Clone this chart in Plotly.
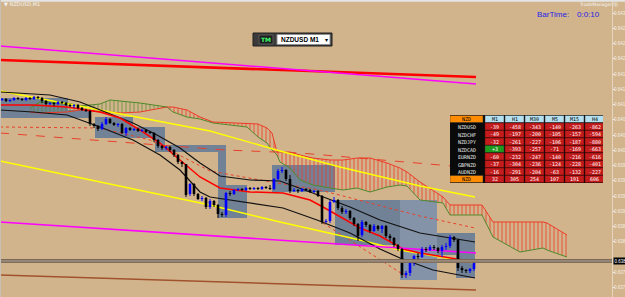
import plotly.graph_objects as go

W, H = 625, 297
PW = 612  # plot area width in px

# ---------------- price data (NZDUSD M1) ----------------
open_ = [0.64130, 0.64132, 0.64128, 0.64130, 0.64134, 0.64132, 0.64130, 0.64134, 0.64132, 0.64136,
         0.64134, 0.64128, 0.64122, 0.64124, 0.64122, 0.64126, 0.64124, 0.64120, 0.64118, 0.64120,
         0.64114, 0.64110, 0.64108, 0.64082, 0.64078, 0.64072, 0.64082, 0.64092, 0.64084, 0.64080,
         0.64082, 0.64064, 0.64074, 0.64070, 0.64072, 0.64068, 0.64070, 0.64066, 0.64064, 0.64050,
         0.64038, 0.64034, 0.64036, 0.64030, 0.64020, 0.64006, 0.64002, 0.63942, 0.63962, 0.63942,
         0.63932, 0.63934, 0.63916, 0.63928, 0.63920, 0.63902, 0.63900, 0.63944, 0.63942, 0.63950,
         0.63952, 0.63950, 0.63954, 0.63952, 0.63954, 0.63952, 0.63956, 0.63954, 0.63952, 0.63972,
         0.63988, 0.63990, 0.63972, 0.63948, 0.63950, 0.63948, 0.63952, 0.63950, 0.63946, 0.63948,
         0.63938, 0.63886, 0.63888, 0.63926, 0.63930, 0.63914, 0.63906, 0.63908, 0.63894, 0.63882,
         0.63860, 0.63886, 0.63880, 0.63868, 0.63878, 0.63872, 0.63878, 0.63858, 0.63854, 0.63840,
         0.63832, 0.63780, 0.63784, 0.63804, 0.63818, 0.63816, 0.63832, 0.63830, 0.63836, 0.63834,
         0.63828, 0.63836, 0.63838, 0.63856, 0.63850, 0.63794, 0.63790, 0.63788, 0.63792]
close_ = [0.64132, 0.64128, 0.64130, 0.64134, 0.64132, 0.64130, 0.64134, 0.64132, 0.64136, 0.64134,
          0.64128, 0.64122, 0.64124, 0.64122, 0.64126, 0.64124, 0.64120, 0.64118, 0.64120, 0.64114,
          0.64110, 0.64108, 0.64082, 0.64078, 0.64072, 0.64082, 0.64092, 0.64084, 0.64080, 0.64082,
          0.64064, 0.64074, 0.64070, 0.64072, 0.64068, 0.64070, 0.64066, 0.64064, 0.64050, 0.64038,
          0.64034, 0.64036, 0.64030, 0.64020, 0.64006, 0.64002, 0.63940, 0.63962, 0.63942, 0.63932,
          0.63934, 0.63916, 0.63928, 0.63920, 0.63902, 0.63900, 0.63944, 0.63942, 0.63950, 0.63952,
          0.63950, 0.63954, 0.63952, 0.63954, 0.63952, 0.63956, 0.63954, 0.63952, 0.63972, 0.63988,
          0.63990, 0.63972, 0.63948, 0.63950, 0.63948, 0.63952, 0.63950, 0.63946, 0.63948, 0.63938,
          0.63886, 0.63888, 0.63926, 0.63930, 0.63914, 0.63906, 0.63908, 0.63894, 0.63882, 0.63858,
          0.63886, 0.63880, 0.63868, 0.63878, 0.63872, 0.63878, 0.63858, 0.63854, 0.63840, 0.63832,
          0.63780, 0.63784, 0.63804, 0.63818, 0.63816, 0.63832, 0.63830, 0.63836, 0.63834, 0.63828,
          0.63836, 0.63838, 0.63856, 0.63850, 0.63794, 0.63790, 0.63788, 0.63792, 0.63808]
high_ = [0.64134, 0.64134, 0.64132, 0.64136, 0.64136, 0.64134, 0.64136, 0.64136, 0.64138, 0.64138,
         0.64136, 0.64130, 0.64126, 0.64126, 0.64128, 0.64128, 0.64126, 0.64122, 0.64122, 0.64122,
         0.64116, 0.64112, 0.64110, 0.64084, 0.64080, 0.64086, 0.64096, 0.64094, 0.64086, 0.64084,
         0.64084, 0.64076, 0.64076, 0.64074, 0.64074, 0.64072, 0.64072, 0.64068, 0.64066, 0.64052,
         0.64040, 0.64038, 0.64038, 0.64032, 0.64022, 0.64008, 0.64002, 0.63964, 0.63964, 0.63944,
         0.63938, 0.63936, 0.63932, 0.63930, 0.63922, 0.63906, 0.63946, 0.63948, 0.63952, 0.63954,
         0.63954, 0.63956, 0.63956, 0.63956, 0.63956, 0.63958, 0.63958, 0.63960, 0.63974, 0.63992,
         0.63996, 0.63992, 0.63980, 0.63954, 0.63952, 0.63954, 0.63954, 0.63952, 0.63950, 0.63950,
         0.63940, 0.63892, 0.63930, 0.63936, 0.63932, 0.63918, 0.63912, 0.63910, 0.63896, 0.63884,
         0.63890, 0.63888, 0.63882, 0.63882, 0.63880, 0.63880, 0.63880, 0.63862, 0.63856, 0.63842,
         0.63834, 0.63788, 0.63808, 0.63820, 0.63824, 0.63836, 0.63836, 0.63840, 0.63840, 0.63836,
         0.63840, 0.63844, 0.63860, 0.63858, 0.63852, 0.63798, 0.63792, 0.63794, 0.63810]
low_ = [0.64128, 0.64126, 0.64126, 0.64128, 0.64130, 0.64128, 0.64128, 0.64130, 0.64130, 0.64132,
        0.64124, 0.64120, 0.64120, 0.64118, 0.64120, 0.64122, 0.64118, 0.64116, 0.64114, 0.64112,
        0.64108, 0.64106, 0.64078, 0.64074, 0.64068, 0.64070, 0.64080, 0.64082, 0.64078, 0.64076,
        0.64062, 0.64058, 0.64068, 0.64068, 0.64066, 0.64066, 0.64064, 0.64062, 0.64046, 0.64034,
        0.64030, 0.64030, 0.64026, 0.64016, 0.64002, 0.63996, 0.63936, 0.63938, 0.63938, 0.63930,
        0.63928, 0.63912, 0.63912, 0.63916, 0.63894, 0.63896, 0.63896, 0.63938, 0.63940, 0.63948,
        0.63948, 0.63948, 0.63950, 0.63950, 0.63950, 0.63950, 0.63952, 0.63950, 0.63950, 0.63970,
        0.63984, 0.63968, 0.63944, 0.63946, 0.63944, 0.63946, 0.63948, 0.63944, 0.63944, 0.63936,
        0.63882, 0.63884, 0.63884, 0.63924, 0.63910, 0.63902, 0.63902, 0.63890, 0.63878, 0.63848,
        0.63856, 0.63876, 0.63864, 0.63866, 0.63868, 0.63864, 0.63854, 0.63848, 0.63836, 0.63828,
        0.63774, 0.63774, 0.63778, 0.63798, 0.63812, 0.63814, 0.63826, 0.63828, 0.63830, 0.63824,
        0.63816, 0.63830, 0.63834, 0.63846, 0.63788, 0.63784, 0.63784, 0.63784, 0.63788]
bar_idx = list(range(len(open_)))
current_price = 0.63808
current_label = "0.638"

# ---------------- indicator lines (bar index, price) ----------------
magenta_hi_x = [-0.5, 118.5]
magenta_hi_y = [0.64238, 0.64162]
red_hi_x = [-0.5, 118.5]
red_hi_y = [0.64210, 0.64176]
magenta_lo_x = [-0.5, 118.5]
magenta_lo_y = [0.63886, 0.63824]
brown_lo_x = [-0.5, 118.5]
brown_lo_y = [0.63780, 0.63750]

yellow_up_x = [-0.5, 25.75, 52, 69.5, 84.5, 104.5, 118.25]
yellow_up_y = [0.64148, 0.64108, 0.64068, 0.64028, 0.63996, 0.63958, 0.63936]
yellow_dn_x = [-0.5, 24.5, 52, 69.5, 89.5, 99.5, 118.25]
yellow_dn_y = [0.64008, 0.63966, 0.63920, 0.63886, 0.63850, 0.63830, 0.63804]

black_up_x = [-0.5, 12, 19.5, 24.5, 32.75, 38.75, 44.5, 49.5, 54.5, 62, 69.5, 77, 87, 94.5, 104.5, 118.25]
black_up_y = [0.64146, 0.64140, 0.64126, 0.64110, 0.64084, 0.64060, 0.64034, 0.64004, 0.63978, 0.63970,
              0.63968, 0.63946, 0.63916, 0.63890, 0.63864, 0.63846]
black_dn_x = [-0.5, 7.75, 16.25, 24.5, 32.75, 39.5, 44.5, 49.5, 52, 62, 70.25, 78.75, 87, 94.5, 99.5, 107.75, 118.25]
black_dn_y = [0.64110, 0.64106, 0.64100, 0.64076, 0.64050, 0.64020, 0.63990, 0.63946, 0.63936, 0.63924,
              0.63914, 0.63890, 0.63864, 0.63832, 0.63814, 0.63790, 0.63774]

ma_red_x = [-0.5, 7.75, 16.25, 24.5, 29.5, 34.5, 39.5, 44.5, 49.5, 54.5, 62, 70.25, 77, 80.25, 84.5, 89.5,
            94.5, 100.25, 104.5, 118.25]
ma_red_y = [0.64120, 0.64120, 0.64116, 0.64106, 0.64094, 0.64070, 0.64044, 0.64010, 0.63976, 0.63954,
            0.63946, 0.63944, 0.63930, 0.63916, 0.63896, 0.63874, 0.63858, 0.63832, 0.63824, 0.63806]

dot_a_x = [-0.5, 24.5, 37, 52, 64.5, 79.5, 104.5, 118.25]
dot_a_y = [0.64076, 0.64074, 0.64050, 0.63988, 0.63970, 0.63950, 0.63898, 0.63874]
dot_b_x = [80.25, 101.25]
dot_b_y = [0.63884, 0.63776]
dash_c_x = [-0.5, 55.75, 74.5, 118.25]
dash_c_y = [0.64064, 0.64030, 0.64024, 0.63994]

# Ichimoku cloud: green-topped part and red-topped part
cloud_g_x = [7, 9.5, 16.25, 19.5, 24.5, 27, 29.5, 34.5, 41.25]
cloud_g_red = [0.64106, 0.64104, 0.64106, 0.64110, 0.64106, 0.64106, 0.64104, 0.64106, 0.64116]
cloud_g_green = [0.64114, 0.64126, 0.64124, 0.64118, 0.64122, 0.64130, 0.64128, 0.64124, 0.64116]
cloud_r_x = [41.25, 42.75, 46.25, 49.5, 52.75, 61.25, 64, 66.25, 67.5, 68.75, 69.5, 72, 74.5, 77.75, 82,
             85.25, 88.75, 92, 96.25, 99.5, 101.25, 104.5, 110.25, 112, 120, 122.75, 129.5, 135.25,
             136.25, 141.25]
cloud_r_red = [0.64116, 0.64116, 0.64110, 0.64096, 0.64086, 0.64084, 0.64082, 0.64074, 0.64064, 0.64026,
               0.64026, 0.64026, 0.64020, 0.64014, 0.64010, 0.64010, 0.64014, 0.64014, 0.64004, 0.63994,
               0.63986, 0.63966, 0.63936, 0.63920, 0.63920, 0.63886, 0.63886, 0.63886, 0.63884, 0.63860]
cloud_r_green = [0.64116, 0.64106, 0.64096, 0.64092, 0.64084, 0.64076, 0.64056, 0.64044, 0.64030, 0.64020,
                 0.64006, 0.63994, 0.63970, 0.63960, 0.63954, 0.63950, 0.63954, 0.63946, 0.63956, 0.63960,
                 0.63958, 0.63930, 0.63924, 0.63900, 0.63900, 0.63856, 0.63826, 0.63834, 0.63830, 0.63816]

# range boxes (bar index start/end, price top/bottom, tone)
box_x0 = [-0.5, 16.25, 23.25, 32.75, 38.25, 40.75, 54, 56, 67.5, 83.25, 99.5, 108.75, 113.5]
box_x1 = [16.5, 22, 32.75, 40.75, 40.75, 55.75, 56, 61.25, 83.25, 99.5, 108.75, 118.25, 118.25]
box_top = [0.64134, 0.64110, 0.64096, 0.64076, 0.64076, 0.64040, 0.64040, 0.63960, 0.64000, 0.63930,
           0.63930, 0.63864, 0.63864]
box_bot = [0.64094, 0.64094, 0.64054, 0.64054, 0.64026, 0.64026, 0.63894, 0.63894, 0.63946, 0.63840,
           0.63770, 0.63820, 0.63774]
box_tone = ["d", "d", "d", "d", "d", "d", "d", "d", "d", "d", "l", "d", "d"]

# y axis ticks (labels as far as they show in the narrow price scale)
tick_vals = [0.64304, 0.64274, 0.64243, 0.64213, 0.64182, 0.64152, 0.64121, 0.64091, 0.64060, 0.64030,
             0.63999, 0.63969, 0.63938, 0.63908, 0.63877, 0.63847, 0.63786, 0.63755]
tick_text = ["0.643", "0.642", "0.642", "0.642", "0.641", "0.641", "0.641", "0.640", "0.640", "0.640",
             "0.639", "0.639", "0.639", "0.639", "0.638", "0.638", "0.637", "0.637"]

# strength table
tbl_cols = ["M1", "H1", "M30", "M5", "M15", "H4"]
tbl_pairs = ["NZDUSD", "NZDCHF", "NZDJPY", "NZDCAD", "EURNZD", "GBPNZD", "AUDNZD"]
tbl_vals = [[-39, -458, -343, -140, -263, -862],
            [-49, -197, -200, -105, -157, -594],
            [-32, -261, -227, -106, -187, -880],
            [3, -393, -257, -71, -169, -663],
            [-60, -232, -247, -140, -216, -616],
            [-37, -304, -236, -124, -228, -401],
            [-16, -291, -204, -63, -132, -227]]
tbl_total = [32, 305, 254, 107, 191, 606]
tbl_ccy = "NZD"

# ---------------- colours ----------------
BG = "#D2B48C"
RED = "#FF0000"
CL_RED = "#EE3A26"
CL_GREEN = "#4E8A2C"


def px(x):
    return x / PW


def py(y):
    return 1 - y / H


fig = go.Figure()

# cloud
fig.add_trace(go.Scatter(x=cloud_g_x, y=cloud_g_red, mode="lines", line=dict(color=CL_RED, width=1)))
fig.add_trace(go.Scatter(x=cloud_g_x, y=cloud_g_green, mode="lines", line=dict(color=CL_GREEN, width=1),
                         fill="tonexty", fillcolor="rgba(0,0,0,0)",
                         fillpattern=dict(shape="|", fgcolor=CL_GREEN, size=4, solidity=0.35)))
fig.add_trace(go.Scatter(x=cloud_r_x, y=cloud_r_green, mode="lines", line=dict(color=CL_GREEN, width=1)))
fig.add_trace(go.Scatter(x=cloud_r_x, y=cloud_r_red, mode="lines", line=dict(color=CL_RED, width=1),
                         fill="tonexty", fillcolor="rgba(0,0,0,0)",
                         fillpattern=dict(shape="|", fgcolor=CL_RED, size=4, solidity=0.4)))

# lines
def line(x, y, color, width, dash="solid"):
    fig.add_trace(go.Scatter(x=x, y=y, mode="lines", line=dict(color=color, width=width, dash=dash)))

line(dot_a_x, dot_a_y, "#E8402A", 1, "dot")
line(dot_b_x, dot_b_y, "#E8402A", 1, "dot")
line(dash_c_x, dash_c_y, "#E8402A", 1, "dash")
line(yellow_up_x, yellow_up_y, "#FFFF00", 1.4)
line(yellow_dn_x, yellow_dn_y, "#FFFF00", 1.4)
line(black_up_x, black_up_y, "#111111", 1.2)
line(black_dn_x, black_dn_y, "#111111", 1.2)
line(ma_red_x, ma_red_y, RED, 1.5)
line(red_hi_x, red_hi_y, RED, 2.6)
line(magenta_hi_x, magenta_hi_y, "#FF00FF", 1.6)
line(magenta_lo_x, magenta_lo_y, "#FF00FF", 1.6)
line(brown_lo_x, brown_lo_y, "#A0522D", 1.5)

# candles
min_body = 0.00002
for up, col in ((True, "#0000FF"), (False, "#000000")):
    wx, wy, bx, byy = [], [], [], []
    for i, o, h, l, c in zip(bar_idx, open_, high_, low_, close_):
        if (c > o) != up:
            continue
        wx += [i, i, None]
        wy += [l, h, None]
        lo, hi = min(o, c), max(o, c)
        if hi - lo < min_body:
            mid = (hi + lo) / 2
            lo, hi = mid - min_body / 2, mid + min_body / 2
        bx += [i, i, None]
        byy += [lo, hi, None]
    fig.add_trace(go.Scatter(x=wx, y=wy, mode="lines", line=dict(color=col, width=1)))
    fig.add_trace(go.Scatter(x=bx, y=byy, mode="lines", line=dict(color=col, width=2.6)))

shapes = []
# boxes
for x0, x1, t, b, tone in zip(box_x0, box_x1, box_top, box_bot, box_tone):
    shapes.append(dict(type="rect", xref="x", yref="y", x0=x0, x1=x1, y0=b, y1=t, layer="below",
                       line=dict(width=0), fillcolor="#718196" if tone == "d" else "#8593A8"))
# current price band
shapes.append(dict(type="line", xref="paper", yref="y", x0=0, x1=1, y0=current_price, y1=current_price,
                   line=dict(color="#A39382", width=3.5)))
for off in (0.000026, -0.000024):
    shapes.append(dict(type="line", xref="paper", yref="y", x0=0, x1=1,
                       y0=current_price + off, y1=current_price + off,
                       line=dict(color="#6E5E4E", width=1)))
# frame
shapes.append(dict(type="line", xref="paper", yref="paper", x0=0, x1=W / PW, y0=py(0.8), y1=py(0.8),
                   line=dict(color="#E4E4E4", width=2)))
shapes.append(dict(type="line", xref="paper", yref="paper", x0=px(0.5), x1=px(0.5), y0=0, y1=1,
                   line=dict(color="#C8C0B4", width=1)))

# top widget
shapes.append(dict(type="rect", xref="paper", yref="paper", x0=px(253), x1=px(332), y0=py(46), y1=py(33),
                   fillcolor="#3A3A3A", line=dict(color="#202020", width=1)))
shapes.append(dict(type="rect", xref="paper", yref="paper", x0=px(259), x1=px(273), y0=py(44), y1=py(35),
                   fillcolor="#1E1E1E", line=dict(color="#5A5A5A", width=1)))
shapes.append(dict(type="rect", xref="paper", yref="paper", x0=px(277), x1=px(330), y0=py(44.5), y1=py(34.5),
                   fillcolor="#FFFFFF", line=dict(color="#909090", width=1)))

annotations = []
annotations.append(dict(xref="paper", yref="paper", x=px(266), y=py(39.5), text="<b>TM</b>", showarrow=False,
                        font=dict(family="DejaVu Sans", size=6, color="#3CFF6E"), xanchor="center", yanchor="middle"))
annotations.append(dict(xref="paper", yref="paper", x=px(279), y=py(39.5), text="<b>NZDUSD M1</b>", showarrow=False,
                        font=dict(family="Liberation Sans", size=6.5, color="#000000"), xanchor="left", yanchor="middle"))
annotations.append(dict(xref="paper", yref="paper", x=px(326), y=py(39.5), text="▾", showarrow=False,
                        font=dict(family="DejaVu Sans", size=6, color="#000000"), xanchor="center", yanchor="middle"))

# titles / labels
annotations.append(dict(xref="paper", yref="paper", x=px(2), y=py(4.5), text="▼ NZDUSD,M1", showarrow=False,
                        font=dict(family="DejaVu Sans", size=5, color="#F4F4F4"), xanchor="left", yanchor="middle"))
annotations.append(dict(xref="paper", yref="paper", x=px(577), y=py(4.5), text="TradeManager ⓢ", showarrow=False,
                        font=dict(family="DejaVu Sans", size=4.5, color="#F4F4F4"), xanchor="left", yanchor="middle"))
annotations.append(dict(xref="paper", yref="paper", x=px(535), y=py(15), text="BarTime:", showarrow=False,
                        font=dict(family="Liberation Sans", size=8, color="#1E1EE6"), xanchor="left", yanchor="middle"))
annotations.append(dict(xref="paper", yref="paper", x=px(575), y=py(15), text="0:0:10", showarrow=False,
                        font=dict(family="Liberation Sans", size=8, color="#1E1EE6"), xanchor="left", yanchor="middle"))
annotations.append(dict(xref="paper", yref="y", x=px(612.5), y=current_price, text=current_label, showarrow=False,
                        font=dict(family="Liberation Sans", size=4.5, color="#FFFFFF"), bgcolor="#000000",
                        xanchor="left", yanchor="middle", borderpad=0.5))

# ---------------- table (on its own axes, px units) ----------------
COLW0, COLX, COLSTEP, COLW = 33, 35, 20, 19
ROWH = 7.5
shapes.append(dict(type="rect", xref="x2", yref="y2", x0=-1.5, x1=154.5, y0=-1, y1=69,
                   line=dict(color="#E0E0E0", width=1, dash="dot"), fillcolor="rgba(0,0,0,0)"))
shapes.append(dict(type="rect", xref="x2", yref="y2", x0=0, x1=153, y0=0, y1=68,
                   line=dict(width=0), fillcolor="#0A0A0A"))


def cell(r, x0, x1, fill, text, tcolor):
    y0, y1 = ROWH * r + 0.5, ROWH * r + ROWH
    shapes.append(dict(type="rect", xref="x2", yref="y2", x0=x0, x1=x1, y0=y0, y1=y1,
                       fillcolor=fill, line=dict(color="#5A0A0A" if fill.startswith("#C") else "#303030", width=0.5)))
    annotations.append(dict(xref="x2", yref="y2", x=(x0 + x1) / 2, y=(y0 + y1) / 2 + 0.3, text=text,
                            showarrow=False, font=dict(family="DejaVu Sans Mono", size=5, color=tcolor),
                            xanchor="center", yanchor="middle"))


cell(0, 0, COLW0, "#FF8C00", tbl_ccy, "#000000")
for k, name in enumerate(tbl_cols):
    cell(0, COLX + COLSTEP * k, COLX + COLSTEP * k + COLW, "#B4E0F0", name, "#000000")
for r, (pair, vals) in enumerate(zip(tbl_pairs, tbl_vals), start=1):
    annotations.append(dict(xref="x2", yref="y2", x=COLW0 / 2, y=ROWH * r + 4.5, text=pair, showarrow=False,
                            font=dict(family="DejaVu Sans Mono", size=5, color="#E8E8E8"),
                            xanchor="center", yanchor="middle"))
    for k, v in enumerate(vals):
        txt = ("+%d" % v) if v > 0 else str(v)
        cell(r, COLX + COLSTEP * k, COLX + COLSTEP * k + COLW, "#1E9A1E" if v > 0 else "#C41C1C", txt, "#FFFFFF")
cell(8, 0, COLW0, "#FF8C00", tbl_ccy, "#000000")
for k, v in enumerate(tbl_total):
    cell(8, COLX + COLSTEP * k, COLX + COLSTEP * k + COLW, "#C41C1C", str(v), "#FFFFFF")

fig.update_layout(
    width=W, height=H, margin=dict(l=0, r=W - PW, t=0, b=0, autoexpand=False),
    paper_bgcolor=BG, plot_bgcolor=BG, showlegend=False, hovermode=False,
    shapes=shapes, annotations=annotations,
    xaxis=dict(range=[-0.5, 152.5], visible=False, fixedrange=True, automargin=False),
    yaxis=dict(range=[0.63736, 0.64330], side="right", tickvals=tick_vals, ticktext=tick_text,
               ticks="outside", ticklen=2, tickcolor="#F0E8DC", showgrid=False, zeroline=False,
               showline=True, linecolor="#E6D6C0", linewidth=1, automargin=False,
               ticklabelstandoff=-2,
               tickfont=dict(family="Liberation Sans", size=4.5, color="#F4EEE6")),
    xaxis2=dict(domain=[450 / PW, 603 / PW], range=[0, 153], visible=False, anchor="y2"),
    yaxis2=dict(domain=[1 - 183 / H, 1 - 115 / H], range=[68, 0], visible=False, anchor="x2"),
)

fig.write_html("out.html")
